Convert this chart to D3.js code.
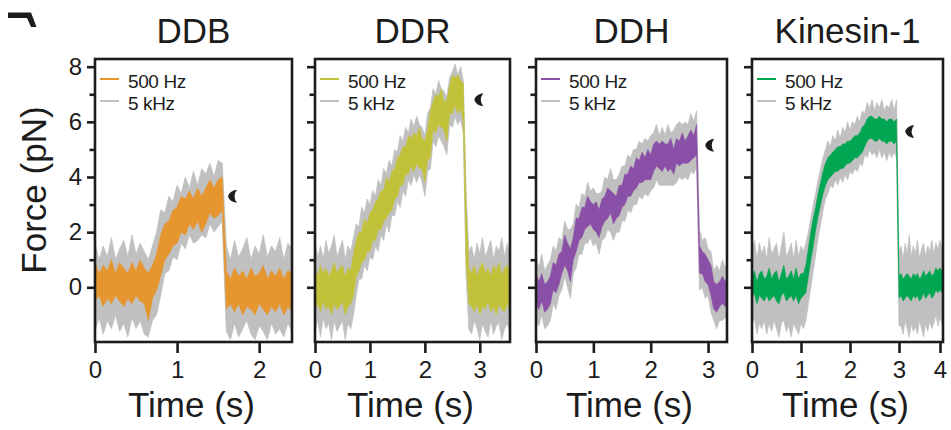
<!DOCTYPE html>
<html>
<head>
<meta charset="utf-8">
<script src="https://cdn.jsdelivr.net/npm/d3@7"></script>
<style>
  html, body { margin: 0; padding: 0; background: #ffffff; }
  svg { display: block; font-family: "Liberation Sans", Arial, Helvetica, sans-serif; }
</style>
</head>
<body>
<svg id="chart" width="951" height="430"></svg>
<script>
// ---------------- DATA ----------------
const panelNames = ["DDB", "DDR", "DDH", "Kinesin-1"];
const panelColors = ["#E6962E", "#C2C23A", "#8A4FA6", "#00A651"];
const grayColor = "#C0C0C0";
const legendLabels = ["500 Hz", "5 kHz"];
const yTickValues = [0, 1, 2, 3, 4, 5, 6, 7, 8];
const yTickLabels = ["0", "", "2", "", "4", "", "6", "", "8"];
const xTickSets = [[0, 1, 2], [0, 1, 2, 3], [0, 1, 2, 3], [0, 1, 2, 3, 4]];
const sampleStep = 0.05; // s between samples

// DDB (t = 0 ... 2.40 s)
const ddbColHi = [0.9,0.5,0.8,0.6,1.0,0.5,0.9,0.7,0.5,0.9,0.6,1.0,0.7,0.5,0.8, 1.2,1.9,2.3,2.4,2.8,2.9,3.3,3.2,3.5,3.2,3.6,3.3,3.6,3.9,3.6,3.9,4.0, 0.6,0.3,0.7,0.4,0.6,0.3,0.7,0.4,0.5,0.8,0.3,0.6,0.4,0.7,0.3,0.6,0.5];
const ddbColLo = [-0.5,-0.3,-0.7,-0.4,-0.6,-0.3,-0.5,-0.7,-0.4,-0.6,-0.3,-0.5,-0.6,-1.2,-0.4, -0.1,0.4,1.0,1.2,1.5,1.6,2.0,1.9,2.3,2.1,2.4,2.0,2.3,2.7,2.5,2.6,2.8, -0.8,-0.6,-0.9,-0.6,-1.0,-0.7,-0.8,-1.0,-0.6,-0.8,-1.0,-0.7,-0.9,-0.6,-1.0,-0.7,-0.9];
const ddbGrayHi = [1.6,1.0,1.5,1.1,1.8,1.0,1.4,1.7,1.1,1.9,1.2,1.6,1.3,1.0,1.5, 2.0,2.8,2.7,3.3,3.1,3.7,3.4,4.0,3.6,4.2,3.7,4.3,4.1,4.5,4.0,4.6,4.5, 1.5,1.0,1.7,1.1,1.4,1.8,1.0,1.5,1.2,1.9,1.1,1.5,1.3,1.8,1.0,1.6,1.4];
const ddbGrayLo = [-1.6,-1.1,-1.7,-1.2,-1.5,-1.0,-1.6,-1.3,-1.8,-1.1,-1.5,-1.2,-1.7,-1.8,-1.2, -1.0,-0.3,0.5,0.6,1.1,1.0,1.6,1.4,1.9,1.6,1.7,1.9,1.8,2.3,2.0,2.2,2.4, -1.6,-1.9,-1.3,-1.8,-1.5,-1.2,-1.7,-1.9,-1.4,-1.6,-1.9,-1.3,-1.7,-1.5,-1.8,-1.3,-1.6];

// DDR (t = 0 ... 3.55 s)
const ddrColHi = [0.7,0.4,0.8,0.5,0.7,0.4,0.6,0.9,0.5,0.7,0.8,0.4,0.7,0.6, 1.2,1.7,2.0,2.0,2.5,2.3,2.7,2.8,3.1,3.2,3.5,3.5,4.0,3.8,4.2,4.3,4.7,4.8,5.1,5.1,5.5,5.4,5.6,5.5,5.8,5.4,5.3,5.7,6.4,6.7,7.0,6.9,7.2,6.7,6.8,7.3,7.7,7.6,7.7,7.5,7.4,3.0,0.7, 0.5,0.8,0.4,0.7,0.9,0.5,0.7,0.4,0.8,0.6,0.9,0.4,0.7,0.8,0.5];
const ddrColLo = [-0.8,-0.6,-0.9,-0.5,-0.8,-0.7,-1.0,-0.6,-0.8,-0.7,-0.5,-1.0,-0.7,-0.6, -0.3,0.4,0.6,0.9,1.0,1.3,1.3,1.7,1.7,2.1,2.1,2.4,2.5,2.7,2.8,3.2,3.3,3.7,3.7,4.1,4.1,4.4,4.2,4.5,4.3,4.3,3.8,4.6,4.7,5.7,5.6,5.9,5.8,5.7,5.3,6.3,6.3,6.6,6.3,6.5,6.0,1.0,-0.6, -0.7,-0.9,-0.6,-1.0,-0.7,-0.8,-0.5,-0.9,-0.7,-1.0,-0.6,-0.8,-0.9,-0.6,-0.8];
const ddrGrayHi = [1.6,1.1,1.5,1.0,1.7,1.2,1.5,1.9,1.1,1.4,1.7,1.0,1.5,1.3, 1.8,2.3,2.2,2.9,2.7,3.2,3.0,3.5,3.3,3.9,3.7,4.3,4.1,4.6,4.4,5.0,4.9,5.5,5.3,5.8,5.6,6.1,5.8,6.2,5.9,5.8,5.5,6.3,6.5,7.2,7.0,7.5,7.2,7.1,6.9,7.6,7.8,8.1,7.7,8.0,7.5,3.5,1.3, 1.5,1.0,1.6,1.2,1.8,1.1,1.4,1.7,1.0,1.5,1.3,1.8,1.1,1.6,1.2];
const ddrGrayLo = [-1.6,-1.2,-1.8,-1.1,-1.5,-1.3,-1.9,-1.2,-1.6,-1.4,-1.2,-1.9,-1.3,-1.5, -1.0,-0.3,0.3,0.3,0.8,0.6,1.1,1.0,1.5,1.3,1.9,1.7,2.3,2.0,2.6,2.6,3.1,2.9,3.5,3.3,3.9,3.7,4.1,3.8,4.1,3.8,3.3,4.2,4.3,5.3,5.1,5.5,5.3,5.1,4.8,5.9,5.8,6.2,5.9,6.1,5.6,0.5,-1.5, -1.7,-1.2,-1.5,-1.9,-1.3,-1.6,-1.8,-1.2,-1.7,-1.4,-1.3,-1.9,-1.5,-1.3,-1.7];

// DDH (t = 0 ... 3.35 s)
const ddhColHi = [0.5,0.2,0.5,0.1,0.2,0.4,0.9,0.8,1.2,1.3,1.9,1.6,1.4,1.8,2.5,2.5,2.9,2.9,3.3,3.1, 3.0,3.1,2.8,3.2,3.3,3.6,3.5,3.4,3.3,3.7,3.7,4.1,4.1,4.4,4.3,4.7,4.6,4.9,4.7,5.0, 4.8,5.2,5.3,5.2,5.3,5.2,5.2,5.4,5.0,5.4,5.3,5.6,5.3,5.5,5.7,5.5,5.9, 1.5,1.3,1.2,1.0,0.8,0.2,0.1,0.2,0.4,0.2,0.4];
const ddhColLo = [-0.6,-0.8,-0.5,-0.9,-0.8,-0.6,-0.1,-0.2,0.1,0.5,0.8,0.6,0.2,1.0,1.3,1.7,1.8,2.1,2.2,2.3, 2.1,2.0,1.8,2.2,2.4,2.5,2.7,2.3,2.5,2.6,2.9,3.0,3.3,3.3,3.5,3.6,3.8,3.8,3.9,3.9, 3.9,4.2,4.4,4.3,4.2,4.4,4.2,4.3,4.1,4.5,4.4,4.5,4.5,4.5,4.6,4.7,4.8, 0.5,0.5,0.2,0.1,-0.3,-0.8,-0.9,-0.7,-0.6,-0.7,-0.6];
const ddhGrayHi = [1.1,0.7,1.2,0.6,0.8,1.0,1.5,1.3,1.8,1.7,2.4,2.1,2.1,2.3,3.0,2.9,3.4,3.3,3.8,3.5, 3.6,3.4,3.4,3.5,4.0,3.9,4.3,3.9,3.9,4.1,4.4,4.4,4.8,4.7,5.0,5.0,5.3,5.2,5.4,5.3, 5.5,5.6,5.9,5.5,5.8,5.5,5.9,5.6,5.7,5.9,6.0,5.9,6.0,5.9,6.3,6.0,6.4, 2.1,1.7,1.8,1.4,1.3,0.6,0.8,0.6,1.0,0.7,1.0];
const ddhGrayLo = [-1.2,-1.4,-1.0,-1.5,-1.4,-1.2,-0.6,-0.8,-0.3,-0.1,0.4,0.0,-0.4,0.5,0.7,1.2,1.2,1.6,1.6,1.8, 1.5,1.6,1.2,1.7,1.8,2.1,2.0,1.7,2.0,2.0,2.4,2.4,2.8,2.7,3.0,3.0,3.3,3.2,3.4,3.3, 3.5,3.6,3.9,3.7,3.7,3.7,3.7,3.7,3.7,3.8,4.0,3.9,4.0,3.9,4.2,4.1,4.4, -0.1,0.0,-0.4,-0.3,-0.9,-1.2,-1.5,-1.2,-1.2,-1.1,-1.2];

// Kinesin-1 (t = 0 ... 4.05 s)
const kinColHi = [0.4,0.6,0.2,0.5,0.6,0.3,0.4,0.7,0.3,0.5,0.6,0.2,0.5,0.8,0.3,0.4,0.6,0.3,0.7,0.3,0.5,0.5, 0.8,1.4,2.0,2.5,2.9,3.4,3.8,4.2,4.5,4.7,4.8,4.9,5.0,5.1,5.1,5.2,5.2,5.3,5.3,5.4,5.5,5.5,5.6,5.8,5.9,6.1,6.2,6.2,6.1,6.1,6.2,6.1,6.1,6.0,6.1,6.1,6.0,6.1, 0.4, 0.5,0.3,0.4,0.5,0.4,0.3,0.5,0.4,0.5,0.3,0.4,0.6,0.4,0.5,0.6,0.4,0.5,0.7,0.6,0.7,0.6];
const kinColLo = [-0.4,-0.2,-0.6,-0.3,-0.4,-0.5,-0.3,-0.5,-0.4,-0.3,-0.5,-0.6,-0.3,-0.2,-0.5,-0.4,-0.3,-0.5,-0.3,-0.6,-0.4,-0.3, -0.2,0.4,1.0,1.5,2.1,2.6,3.0,3.4,3.7,3.9,4.0,4.1,4.2,4.2,4.3,4.3,4.4,4.5,4.5,4.6,4.7,4.7,4.8,4.9,5.1,5.3,5.4,5.4,5.3,5.3,5.4,5.3,5.3,5.2,5.3,5.3,5.2,5.3, -0.4, -0.3,-0.5,-0.4,-0.3,-0.4,-0.5,-0.3,-0.4,-0.3,-0.5,-0.4,-0.2,-0.4,-0.3,-0.2,-0.4,-0.3,-0.1,-0.2,-0.1,-0.2];
const kinGrayHi = [1.3,1.7,1.0,1.6,1.2,1.5,1.0,1.8,1.2,1.4,1.6,1.0,1.5,2.0,1.1,1.3,1.6,1.0,1.7,1.1,1.5,1.3, 1.6,2.0,2.5,3.0,3.4,3.9,4.3,4.7,5.0,5.3,5.1,5.5,5.3,5.7,5.4,5.8,5.6,6.0,5.7,6.0,5.9,6.2,6.0,6.4,6.3,6.7,6.5,6.8,6.4,6.7,6.5,6.8,6.4,6.6,6.5,6.8,6.4,6.8, 1.3, 1.5,1.0,1.6,1.2,1.9,1.1,1.5,1.2,1.7,1.0,1.4,1.6,1.1,1.5,1.3,1.7,1.2,1.6,1.4,1.7,1.4];
const kinGrayLo = [-1.4,-1.1,-1.7,-1.3,-1.5,-1.2,-1.7,-1.3,-1.6,-1.2,-1.5,-1.8,-1.3,-1.2,-1.6,-1.4,-1.8,-1.3,-1.5,-1.7,-1.3,-1.5, -1.2,-0.6,0.0,0.6,1.2,1.8,2.3,2.8,3.2,3.4,3.7,3.6,3.9,3.7,4.0,3.8,4.1,3.9,4.2,4.1,4.3,4.2,4.5,4.4,4.8,4.7,5.0,4.8,4.9,4.7,5.0,4.7,4.9,4.6,4.9,4.7,4.9,4.7, -1.4, -1.4,-1.7,-1.2,-1.5,-1.8,-1.3,-1.6,-1.4,-1.7,-1.2,-1.5,-1.8,-1.3,-1.6,-1.2,-1.5,-1.3,-1.0,-1.4,-1.1,-1.3];

// rupture arrowheads (time s, force pN)
const arrowT = [1.62, 2.90, 2.95, 3.15];
const arrowF = [3.3, 6.8, 5.15, 5.65];

// ---------------- LAYOUT ----------------
const colHiAll = [ddbColHi, ddrColHi, ddhColHi, kinColHi];
const colLoAll = [ddbColLo, ddrColLo, ddhColLo, kinColLo];
const grayHiAll = [ddbGrayHi, ddrGrayHi, ddhGrayHi, kinGrayHi];
const grayLoAll = [ddbGrayLo, ddrGrayLo, ddhGrayLo, kinGrayLo];

const frames = [
  { left: 95,  right: 292, xDomain: [0, 2.4],     xRange: [95, 292] },
  { left: 315, right: 510, xDomain: [0, 3.55],    xRange: [315, 510] },
  { left: 536, right: 727, xDomain: [0, 3.33],    xRange: [536, 727] },
  { left: 752, right: 943, xDomain: [0, 3, 4],    xRange: [752, 899, 940] }
];
const frameTop = 59, frameBottom = 342;
const y = d3.scaleLinear().domain([0, 8]).range([287.3, 66.7]);
const ink = "#1c1c1c";
const fontFam = '"Liberation Sans", Arial, sans-serif';

const svg = d3.select("#chart");

// top-left fragment of the panel letter
svg.append("path")
  .attr("d", "M8,12.5 L31,12.5 L36.5,27 L31,27 L27,18 L8,18 Z")
  .attr("fill", ink);

panelNames.forEach((name, p) => {
  const f = frames[p];
  const x = d3.scaleLinear().domain(f.xDomain).range(f.xRange);
  const g = svg.append("g");

  const clipId = "clip" + p;
  svg.append("clipPath").attr("id", clipId)
    .append("rect").attr("x", f.left).attr("y", frameTop)
    .attr("width", f.right - f.left).attr("height", frameBottom - frameTop);

  const mk = (hi, lo) => hi.map((h, i) => ({ t: i * sampleStep, hi: h, lo: lo[i] }));
  const area = d3.area().x(d => x(d.t)).y0(d => y(d.lo)).y1(d => y(d.hi));

  const plot = g.append("g").attr("clip-path", `url(#${clipId})`);
  plot.append("path").datum(mk(grayHiAll[p], grayLoAll[p]))
    .attr("d", area).attr("fill", grayColor).attr("stroke", grayColor).attr("stroke-width", 0.8);
  plot.append("path").datum(mk(colHiAll[p], colLoAll[p]))
    .attr("d", area).attr("fill", panelColors[p]).attr("stroke", panelColors[p]).attr("stroke-width", 0.6);

  // frame
  g.append("rect").attr("x", f.left).attr("y", frameTop)
    .attr("width", f.right - f.left).attr("height", frameBottom - frameTop)
    .attr("fill", "none").attr("stroke", ink).attr("stroke-width", 2.6);

  // y axis
  const yAxis = d3.axisLeft(y).tickValues(yTickValues)
    .tickFormat((d, i) => p === 0 ? yTickLabels[i] : "")
    .tickSize(0).tickPadding(13);
  const ya = g.append("g").attr("transform", `translate(${f.left},0)`).call(yAxis);
  ya.select(".domain").remove();
  ya.selectAll(".tick line")
    .attr("x2", d => d % 2 === 0 ? -8 : -5.5)
    .attr("stroke", ink).attr("stroke-width", 2.6);
  ya.selectAll(".tick text")
    .attr("fill", ink).style("font-size", "24px").style("font-family", fontFam);

  // x axis
  const xAxis = d3.axisBottom(x).tickValues(xTickSets[p]).tickFormat(d3.format("d"))
    .tickSize(11).tickPadding(8);
  const xa = g.append("g").attr("transform", `translate(0,${frameBottom})`).call(xAxis);
  xa.select(".domain").remove();
  xa.selectAll(".tick line").attr("stroke", ink).attr("stroke-width", 2.6);
  xa.selectAll(".tick text")
    .attr("fill", ink).style("font-size", "24px").style("font-family", fontFam);

  const cx = (f.left + f.right) / 2;
  // title
  g.append("text").attr("x", cx).attr("y", 43).attr("text-anchor", "middle")
    .style("font-size", "35px").attr("fill", ink).text(name);
  // x label
  g.append("text").attr("x", cx - 2).attr("y", 417).attr("text-anchor", "middle")
    .style("font-size", "35px").attr("fill", ink).text("Time (s)");

  // legend
  const lg = g.append("g");
  [panelColors[p], grayColor].forEach((c, i) => {
    lg.append("line").attr("x1", f.left + 5).attr("x2", f.left + 24)
      .attr("y1", 79 + i * 22).attr("y2", 79 + i * 22)
      .attr("stroke", c).attr("stroke-width", 2);
    lg.append("text").attr("x", f.left + 33).attr("y", 88 + i * 22)
      .style("font-size", "19px").style("letter-spacing", "-0.4px")
      .attr("fill", ink).text(legendLabels[i]);
  });

  // arrowhead
  g.append("path")
    .attr("transform", `translate(${x(arrowT[p])},${y(arrowF[p])})`)
    .attr("d", "M0,0 Q1.5,-5.5 9,-6.5 Q4,0 9,6.5 Q1.5,5.5 0,0 Z")
    .attr("fill", ink);
});

// y axis label
svg.append("text")
  .attr("transform", "translate(46,190) rotate(-90)")
  .attr("text-anchor", "middle")
  .style("font-size", "35px").attr("fill", ink)
  .text("Force (pN)");
</script>
</body>
</html>
